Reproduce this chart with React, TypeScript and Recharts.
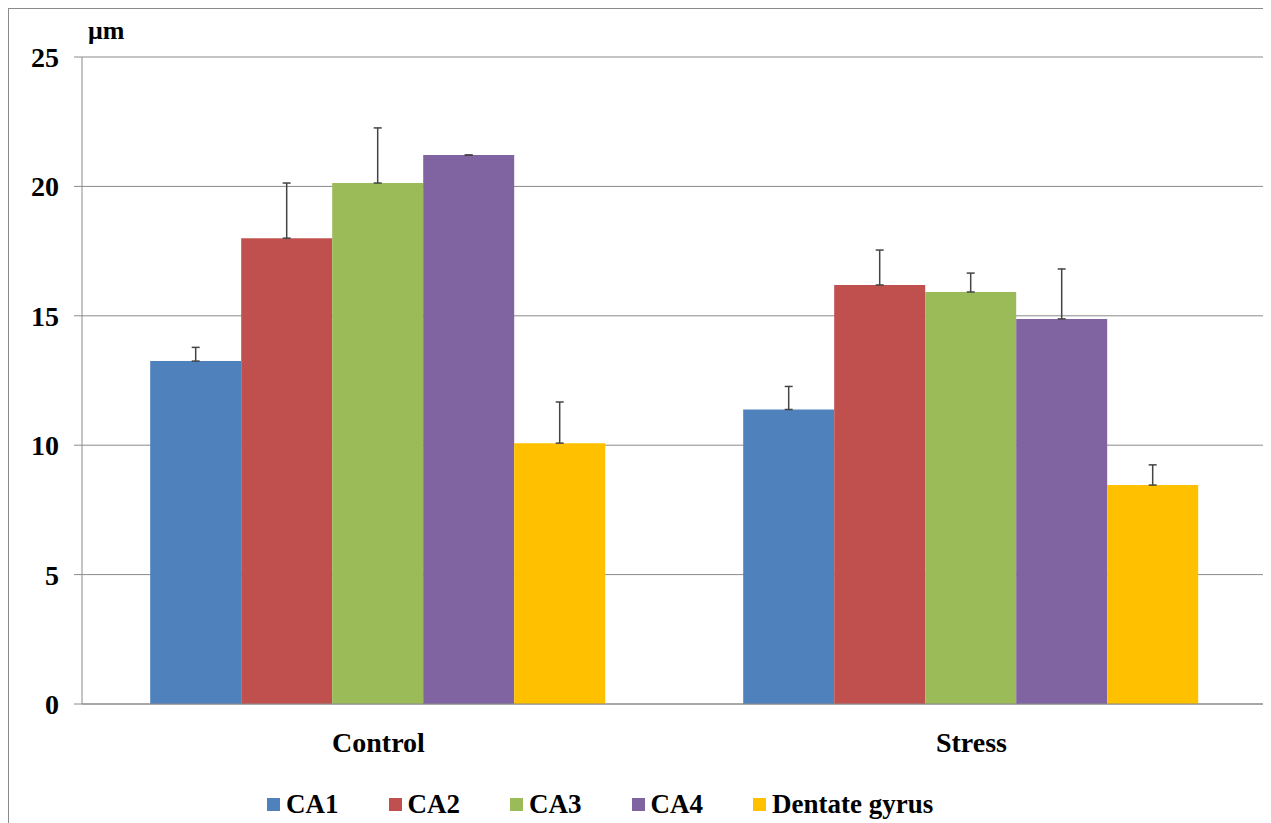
import { BarChart, Bar, XAxis, YAxis, CartesianGrid, ErrorBar, Legend } from "recharts";

const groups = ["Control", "Stress"];
const regions = ["CA1", "CA2", "CA3", "CA4", "Dentate gyrus"];
const colors = ["#4F81BD", "#C0504D", "#9BBB59", "#8064A2", "#FFC000"];

const controlMeans = [13.25, 18.0, 20.13, 21.21, 10.08];
const controlErrors = [0.53, 2.13, 2.13, 0.0, 1.59];
const stressMeans = [11.38, 16.19, 15.92, 14.88, 8.46];
const stressErrors = [0.89, 1.35, 0.73, 1.93, 0.78];

const yTicks = [0, 5, 10, 15, 20, 25];
const groupEdges = [0, 1, 2];

const means = [controlMeans, stressMeans];
const errors = [controlErrors, stressErrors];

const data = groups.map((group, g) => {
  const row: Record<string, unknown> = { group };
  regions.forEach((_, i) => {
    row[`v${i}`] = means[g][i];
    row[`e${i}`] = [0, errors[g][i]];
  });
  return row;
});

const FONT = '"Liberation Serif", "Times New Roman", serif';
const GRAY = "#8a8a8a";

function LegendContent() {
  return (
    <div
      style={{
        display: "flex",
        alignItems: "center",
        height: 30,
        paddingLeft: 258,
        fontFamily: FONT,
        fontWeight: "bold",
        fontSize: 27,
        color: "#000",
      }}
    >
      {regions.map((name, i) => (
        <div key={name} style={{ display: "flex", alignItems: "center", marginRight: 50 }}>
          <span
            style={{
              display: "inline-block",
              width: 13,
              height: 13,
              background: colors[i],
              marginRight: 6,
            }}
          />
          <span>{name}</span>
        </div>
      ))}
    </div>
  );
}

function UnitLabel(props: any) {
  const { viewBox } = props;
  return (
    <text
      x={viewBox.x + viewBox.width + 6}
      y={viewBox.y - 18}
      fontFamily={FONT}
      fontWeight="bold"
      fontSize={26}
      fill="#000"
    >
      μm
    </text>
  );
}

export default function App() {
  return (
    <div
      style={{
        width: 1261,
        height: 830,
        border: `1px solid ${GRAY}`,
        boxSizing: "border-box",
        background: "#fff",
      }}
    >
      <BarChart
        width={1259}
        height={828}
        data={data}
        margin={{ top: 48, right: 0, bottom: 57, left: 0 }}
        barCategoryGap="11.5%"
        barGap={0}
      >
        <CartesianGrid xAxisId="groups" vertical={false} stroke={GRAY} strokeWidth={1} />
        <XAxis
          xAxisId="edges"
          type="number"
          domain={[0, 2]}
          ticks={groupEdges}
          allowDataOverflow
          height={1}
          tick={false}
          tickSize={8}
          stroke={GRAY}
          axisLine={{ stroke: GRAY }}
          tickLine={{ stroke: GRAY }}
        />
        <XAxis
          xAxisId="groups"
          dataKey="group"
          height={45}
          axisLine={false}
          tickLine={false}
          tickSize={0}
          tickMargin={27}
          tick={{ fontFamily: FONT, fontWeight: "bold", fontSize: 28, fill: "#000" }}
        />
        <YAxis
          width={73}
          domain={[0, 25]}
          ticks={yTicks}
          tickSize={8}
          tickMargin={15}
          axisLine={{ stroke: GRAY }}
          tickLine={{ stroke: GRAY }}
          tick={{ fontFamily: FONT, fontWeight: "bold", fontSize: 28, fill: "#000" }}
          label={<UnitLabel />}
        />
        <Legend
          verticalAlign="bottom"
          height={30}
          content={<LegendContent />}
          wrapperStyle={{ left: 0, width: 1259, bottom: 18 }}
        />
        {regions.map((name, i) => (
          <Bar
            key={name}
            xAxisId="groups"
            dataKey={`v${i}`}
            name={name}
            fill={colors[i]}
            isAnimationActive={false}
          >
            <ErrorBar dataKey={`e${i}`} width={4} stroke="#444" strokeWidth={1.5} direction="y" />
          </Bar>
        ))}
      </BarChart>
    </div>
  );
}
